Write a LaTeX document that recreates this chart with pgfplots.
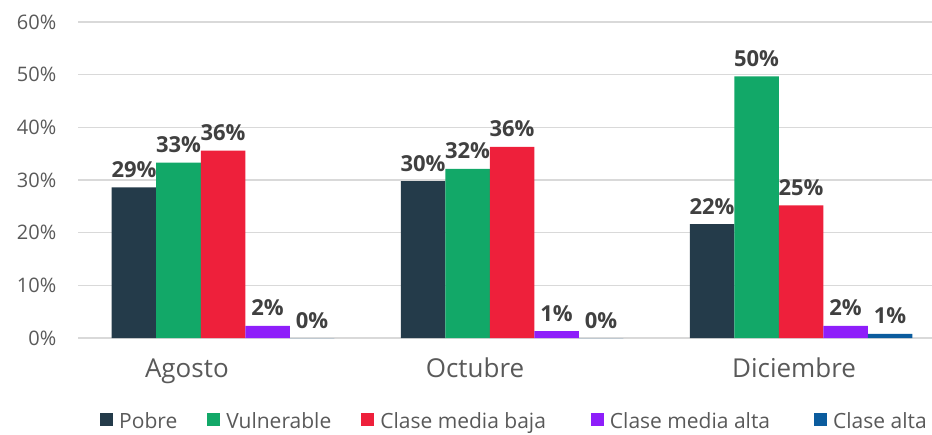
\documentclass[border=0pt]{standalone}
\usepackage{pgfplots}
\pgfplotsset{compat=1.18}
\usepackage{fontspec}
\setmainfont{Open Sans}
\definecolor{cPobre}{HTML}{243B4A}
\definecolor{cVuln}{HTML}{12A868}
\definecolor{cCMB}{HTML}{EE203B}
\definecolor{cCMA}{HTML}{8E1EFA}
\definecolor{cCA}{HTML}{0B5C9E}
\definecolor{cGrid}{HTML}{D9D9D9}
\definecolor{cTxt}{HTML}{595959}
\definecolor{cLab}{HTML}{404040}
\begin{document}
\begin{tikzpicture}
\begin{axis}[
  /pgf/number format/assume math mode=true,
  scale only axis,
  width=867pt, height=316pt,
  xmin=-0.5, xmax=2.5,
  ymin=0, ymax=60,
  ybar=0pt, bar width=44.5pt,
  clip=false,
  axis line style={draw=none},
  tick style={draw=none},
  ytick={0,10,20,30,40,50,60},
  yticklabel={\pgfmathprintnumber{\tick}\%},
  yticklabel style={font=\fontsize{20}{24}\selectfont, color=cTxt, anchor=east, inner sep=0pt, xshift=-22pt},
  xtick={-0.125,0.872,1.976},
  xticklabels={Agosto,Octubre,Diciembre},
  xticklabel style={font=\fontsize{26}{30}\selectfont, color=cTxt, anchor=base, inner sep=0pt, yshift=-35pt},
  ymajorgrids,
  major grid style={color=cGrid, line width=1.5pt},
  nodes near coords={\pgfmathprintnumber[fixed,precision=0]{\pgfplotspointmeta}\%},
  every node near coord/.append style={font=\bfseries\fontsize{22}{26}\selectfont, color=cLab, anchor=base, inner sep=0pt, yshift=10pt},
  legend columns=5,
  legend style={at={(0.0248,-0.2625)}, anchor=west, draw=none, fill=none, inner sep=0pt,
    font=\fontsize{21}{25}\selectfont, text=cTxt,
    nodes={inner sep=0pt},
    /tikz/every odd column/.append style={column sep=6pt},
    /tikz/every even column/.append style={column sep=30pt}},
  legend image code/.code={\fill[#1] (0pt,-5.5pt) rectangle (13pt,7.5pt);},
]
\addplot[fill=cPobre, draw=none] coordinates {(0,28.6) (1,29.8) (2,21.6)};
\addplot[fill=cVuln, draw=none] coordinates {(0,33.3) (1,32.1) (2,49.7)};
\addplot[fill=cCMB, draw=none] coordinates {(0,35.6) (1,36.3) (2,25.2)};
\addplot[fill=cCMA, draw=none] coordinates {(0,2.3) (1,1.3) (2,2.3)};
\addplot[fill=cCA, draw=none] coordinates {(0,0) (1,0) (2,0.8)};
\legend{Pobre,Vulnerable,Clase media baja\kern15pt,Clase media alta\kern14pt,Clase alta}
\end{axis}
\pgfresetboundingbox
\path[use as bounding box] (-78.5pt,-96pt) rectangle (853.5pt,338pt);
\end{tikzpicture}
\end{document}
